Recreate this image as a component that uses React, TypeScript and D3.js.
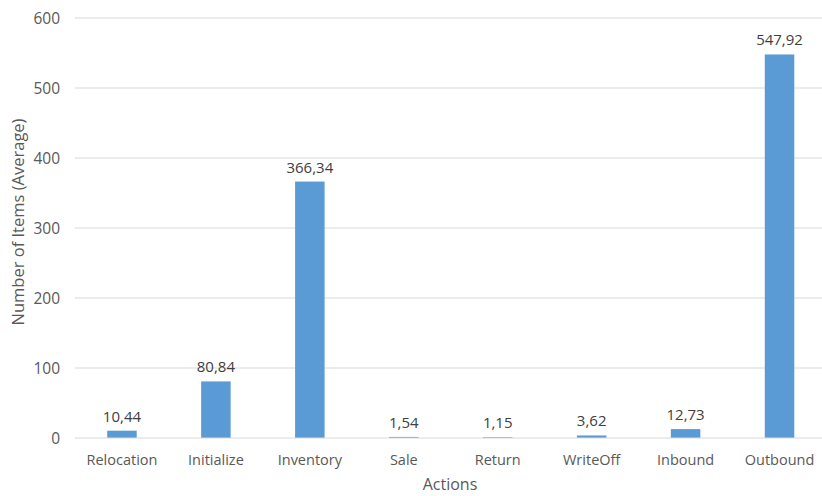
import React from "react";
import * as d3 from "d3";

const categories = ["Relocation", "Initialize", "Inventory", "Sale", "Return", "WriteOff", "Inbound", "Outbound"];
const values = [10.44, 80.84, 366.34, 1.54, 1.15, 3.62, 12.73, 547.92];
const yTicks = [0, 100, 200, 300, 400, 500, 600];

const W = 822;
const H = 496;
const FONT = "'Open Sans', 'Liberation Sans', sans-serif";

export default function App() {
  const x = d3.scaleBand<string>().domain(categories).range([75, 826.5]).paddingInner(0.686).paddingOuter(0.343);
  const y = d3.scaleLinear().domain([0, 600]).range([438, 18]);
  const fmt = (v: number) => v.toFixed(2).replace(".", ",");
  return (
    <svg width={W} height={H} style={{ position: "absolute", left: 0, top: 0, background: "#fff" }} fontFamily={FONT}>
      {yTicks.map((t) => (
        <g key={t}>
          {t !== 0 && <line x1={75} x2={822} y1={y(t)} y2={y(t)} stroke="#d9d9d9" strokeWidth={1} />}
          <text x={60} y={y(t)} dy="0.36em" textAnchor="end" fontSize={15.5} fill="#595959">{t}</text>
        </g>
      ))}
      {categories.map((c, i) => (
        <g key={c}>
          <rect x={x(c)} y={y(values[i])} width={x.bandwidth()} height={y(0) - y(values[i])} fill="#5b9bd5" />
          <text x={(x(c) as number) + x.bandwidth() / 2} y={y(values[i]) - 9} textAnchor="middle" fontSize={15} fill="#404040">{fmt(values[i])}</text>
          <text x={(x(c) as number) + x.bandwidth() / 2} y={465} textAnchor="middle" fontSize={14.5} fill="#595959">{c}</text>
        </g>
      ))}
      <line x1={75} x2={822} y1={y(0)} y2={y(0)} stroke="#d9d9d9" strokeWidth={1} />
      <text x={450} y={490} textAnchor="middle" fontSize={16} fill="#595959">Actions</text>
      <text transform={`translate(24,222) rotate(-90)`} textAnchor="middle" fontSize={16.5} fill="#595959">Number of Items (Average)</text>
    </svg>
  );
}
